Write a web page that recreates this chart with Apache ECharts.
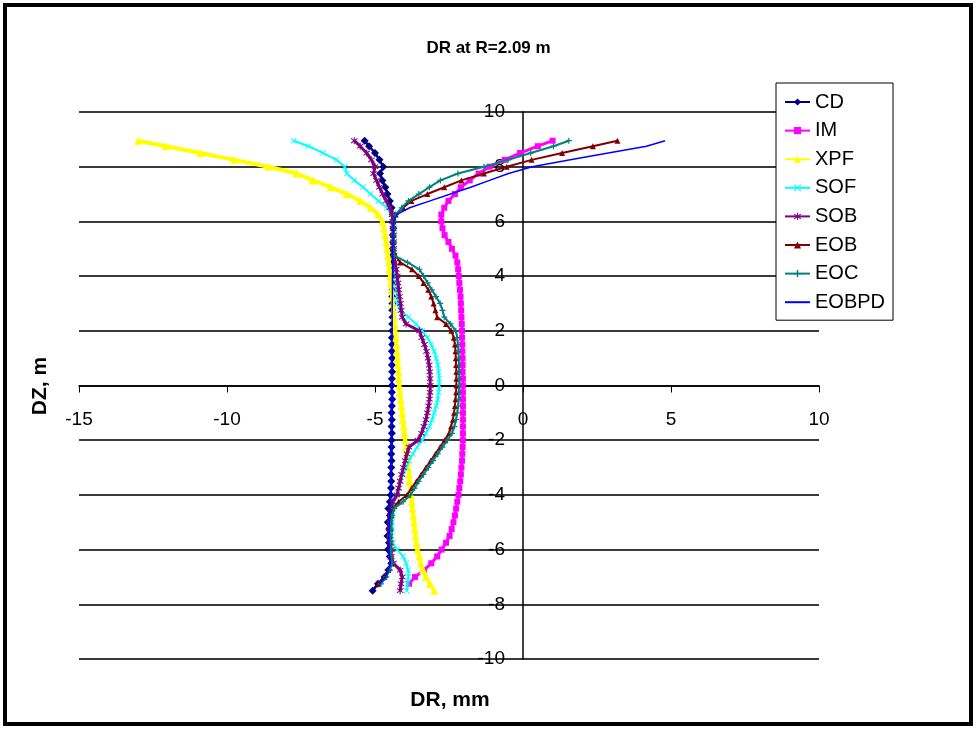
<!DOCTYPE html>
<html>
<head>
<meta charset="utf-8">
<script src="https://cdn.jsdelivr.net/npm/echarts@6/dist/echarts.min.js"></script>
<style>
html,body{margin:0;padding:0;background:#fff;}
#chart{width:977px;height:730px;}
</style>
</head>
<body>
<div id="chart"></div>
<script>
// DZ (m) levels shared by all series
const DZ = [8.95, 8.75, 8.5, 8.25, 8, 7.75, 7.5, 7.25, 7, 6.75, 6.5, 6.25, 6,
  5.75, 5.5, 5.25, 5, 4.75, 4.5, 4.25, 4, 3.75, 3.5, 3.25, 3, 2.75, 2.5, 2.25,
  2, 1.75, 1.5, 1.25, 1, 0.75, 0.5, 0.25, 0,
  -0.25, -0.5, -0.75, -1, -1.25, -1.5, -1.75, -2,
  -2.25, -2.5, -2.75, -3, -3.25, -3.5, -3.75, -4,
  -4.25, -4.5, -4.75, -5, -5.25, -5.5, -5.75, -6,
  -6.25, -6.5, -6.75, -7, -7.25, -7.5];

// DR (mm) values per series
const CD = [-5.35, -5.2, -5.0, -4.85, -4.72, -4.83, -4.75, -4.65, -4.58, -4.5, -4.44, -4.4, -4.39,
  -4.38, -4.4, -4.39, -4.4, -4.41, -4.4, -4.39, -4.41, -4.4, -4.41, -4.42, -4.41, -4.42, -4.41, -4.42,
  -4.42, -4.43, -4.42, -4.43, -4.42, -4.43, -4.42, -4.43, -4.43,
  -4.43, -4.42, -4.43, -4.44, -4.43, -4.44, -4.43, -4.44,
  -4.44, -4.45, -4.44, -4.45, -4.46, -4.45, -4.46, -4.47,
  -4.5, -4.55, -4.5, -4.57, -4.52, -4.58, -4.53, -4.56,
  -4.5, -4.45, -4.55, -4.68, -4.9, -5.08];
const IM = [1.0, 0.5, -0.1, -0.62, -1.13, -1.5, -1.8, -2.1, -2.3, -2.52, -2.66, -2.76, -2.76,
  -2.72, -2.65, -2.52, -2.4, -2.28, -2.22, -2.19, -2.17, -2.15, -2.13, -2.11, -2.1, -2.09, -2.08, -2.07,
  -2.06, -2.06, -2.05, -2.05, -2.04, -2.04, -2.04, -2.03, -2.03,
  -2.03, -2.03, -2.03, -2.03, -2.03, -2.03, -2.03, -2.03,
  -2.04, -2.05, -2.06, -2.08, -2.1, -2.12, -2.15, -2.18,
  -2.22, -2.26, -2.3, -2.35, -2.41, -2.48, -2.6, -2.75,
  -2.9, -3.1, -3.35, -3.65, -3.85, null];
const XPF = [-13.0, -12.07, -10.9, -9.75, -8.6, -7.65, -7.1, -6.5, -5.95, -5.5, -5.15, -4.9, -4.75,
  -4.7, -4.66, -4.62, -4.59, -4.56, -4.53, -4.51, -4.49, -4.46, -4.44, -4.42, -4.4, -4.38, -4.36, -4.34,
  -4.32, -4.3, -4.28, -4.26, -4.25, -4.23, -4.21, -4.2, -4.18,
  -4.16, -4.13, -4.11, -4.08, -4.06, -4.03, -4.01, -3.98,
  -3.95, -3.93, -3.9, -3.88, -3.85, -3.83, -3.8, -3.78,
  -3.76, -3.73, -3.71, -3.68, -3.66, -3.63, -3.6, -3.57,
  -3.5, -3.45, -3.38, -3.27, -3.15, -3.0];
const SOF = [-7.75, -7.25, -6.75, -6.3, -6.02, -5.95, -5.7, -5.4, -5.15, -4.88, -4.6, -4.45, -4.38,
  -4.36, -4.35, -4.35, -4.34, -4.34, -4.33, -4.32, -4.3, -4.29, -4.28, -4.26, -4.24, -4.15, -3.87, -3.62,
  -3.4, -3.23, -3.1, -3.0, -2.93, -2.88, -2.85, -2.83, -2.83,
  -2.85, -2.88, -2.93, -3.0, -3.07, -3.17, -3.28, -3.4,
  -3.58, -3.72, -3.85, -3.95, -4.05, -4.15, -4.22, -4.28,
  -4.35, -4.38, -4.4, -4.42, -4.42, -4.43, -4.4, -4.25,
  -4.05, -3.95, -3.88, -3.87, -3.9, -3.93];
const SOB = [-5.7, -5.5, -5.28, -5.12, -5.0, -5.05, -4.95, -4.85, -4.74, -4.62, -4.5, -4.42, -4.4,
  -4.39, -4.38, -4.38, -4.37, -4.36, -4.33, -4.28, -4.25, -4.22, -4.2, -4.17, -4.14, -4.11, -4.08, -3.95,
  -3.5, -3.42, -3.33, -3.26, -3.21, -3.17, -3.15, -3.14, -3.13,
  -3.14, -3.16, -3.19, -3.23, -3.28, -3.35, -3.43, -3.55,
  -3.85, -3.92, -3.98, -4.04, -4.1, -4.15, -4.2, -4.26,
  -4.4, -4.45, -4.48, -4.5, -4.52, -4.5, -4.48, -4.45,
  -4.45, -4.38, -4.15, -4.08, -4.12, -4.15];
const EOB = [3.19, 2.36, 1.32, 0.29, -0.55, -1.32, -2.08, -2.66, -3.23, -3.77, -4.05, -4.3, -4.38,
  -4.38, -4.39, -4.39, -4.4, -4.3, -4.15, -3.75, -3.52, -3.36, -3.2, -3.1, -3.02, -2.96, -2.9, -2.6,
  -2.42, -2.34, -2.3, -2.28, -2.27, -2.26, -2.25, -2.25, -2.25,
  -2.26, -2.28, -2.3, -2.33, -2.37, -2.43, -2.5, -2.65,
  -2.8, -2.96, -3.12, -3.28, -3.44, -3.6, -3.76, -3.92,
  -4.2, -4.42, -4.45, -4.5, -4.48, -4.52, -4.5, -4.5,
  -4.48, -4.45, -4.55, -4.68, -4.88, null];
const EOC = [1.55, 1.03, 0.26, -0.5, -1.32, -2.2, -2.79, -3.16, -3.52, -3.87, -4.1, -4.3, -4.37,
  -4.37, -4.38, -4.38, -4.39, -4.35, -3.9, -3.5, -3.36, -3.22, -3.08, -2.94, -2.8, -2.72, -2.66, -2.45,
  -2.27, -2.22, -2.2, -2.18, -2.17, -2.16, -2.16, -2.15, -2.15,
  -2.16, -2.17, -2.19, -2.22, -2.26, -2.32, -2.4, -2.55,
  -2.72, -2.88, -3.04, -3.2, -3.36, -3.52, -3.66, -3.8,
  -4.05, -4.35, -4.42, -4.47, -4.45, -4.5, -4.48, -4.47,
  -4.45, -4.42, -4.5, -4.62, -4.8, null];
const EOBPD = [4.8, 4.17, 2.88, 1.6, 0.31, -0.49, -1.13, -1.77, -2.45, -3.14, -3.83, -4.27, -4.37,
  -4.38, -4.39, -4.39, -4.4, -4.4, -4.4, -4.4, -4.41, -4.41, -4.41, -4.41, -4.42, -4.42, -4.42, -4.42,
  -4.42, -4.42, -4.43, -4.43, -4.43, -4.43, -4.43, -4.43, -4.43,
  -4.43, -4.43, -4.43, -4.44, -4.44, -4.44, -4.44, -4.44,
  -4.44, -4.45, -4.45, -4.45, -4.46, -4.46, -4.46, -4.47,
  -4.48, -4.5, -4.5, -4.52, -4.52, -4.53, -4.53, -4.53,
  -4.5, -4.48, -4.55, -4.65, -4.85, null];

const SERIES_NAMES = ['CD', 'IM', 'XPF', 'SOF', 'SOB', 'EOB', 'EOC', 'EOBPD'];
const SERIES_VALUES = [CD, IM, XPF, SOF, SOB, EOB, EOC, EOBPD];

const X_MIN = -15, X_MAX = 10, X_STEP = 5;
const Y_MIN = -10, Y_MAX = 10, Y_STEP = 2;

const TITLE = 'DR at R=2.09 m';
const X_NAME = 'DR, mm';
const Y_NAME = 'DZ, m';

const FONT = "'Liberation Sans', Arial, sans-serif";

const X_SHAPE = 'path://M0,1L1,0L5,4L9,0L10,1L6,5L10,9L9,10L5,6L1,10L0,9L4,5Z';
const PLUS_SHAPE = 'path://M4,0H6V4H10V6H6V10H4V6H0V4H4Z';
const STAR_SHAPE = 'path://M4.3,0H5.7V3.6L8.8,1.2L9.6,2.3L6.4,5L9.6,7.7L8.8,8.8L5.7,6.4V10H4.3V6.4L1.2,8.8L0.4,7.7L3.6,5L0.4,2.3L1.2,1.2L4.3,3.6Z';

const STYLES = [
  { color: '#000080', width: 2.5, symbol: 'diamond', size: 8 },
  { color: '#FF00FF', width: 3, symbol: 'rect', size: 6 },
  { color: '#FFFF00', width: 4, symbol: 'triangle', size: 8 },
  { color: '#00FFFF', width: 2, symbol: X_SHAPE, size: 6 },
  { color: '#800080', width: 3, symbol: STAR_SHAPE, size: 7 },
  { color: '#800000', width: 2, symbol: 'triangle', size: 6 },
  { color: '#008080', width: 2, symbol: PLUS_SHAPE, size: 6 },
  { color: '#0000FF', width: 1.5, symbol: 'circle', size: 1 }
];

// plot geometry
const GRID_LEFT = 79, GRID_RIGHT = 158, GRID_TOP = 112, GRID_BOTTOM = 71;
const W = 977, H = 730;
const plotW = W - GRID_LEFT - GRID_RIGHT;
const plotH = H - GRID_TOP - GRID_BOTTOM;
const xZeroOffset = plotW * (0 - X_MIN) / (X_MAX - X_MIN);
const yZeroOffset = plotH * (0 - Y_MIN) / (Y_MAX - Y_MIN);

const series = SERIES_NAMES.map((name, k) => {
  const vals = SERIES_VALUES[k];
  const st = STYLES[k];
  const data = [];
  DZ.forEach((z, i) => { if (vals[i] !== null && vals[i] !== undefined) data.push([vals[i], z]); });
  return {
    name: name,
    type: 'line',
    data: data,
    symbol: st.symbol,
    symbolSize: st.size,
    showSymbol: k !== 7,
    lineStyle: { color: st.color, width: st.width },
    itemStyle: { color: st.color, borderWidth: 0 },
    emphasis: { disabled: true },
    animation: false,
    z: 2 + k
  };
});

const legendData = SERIES_NAMES.map((name, k) =>
  k === 7 ? { name: name, itemStyle: { opacity: 0 } } : { name: name });

const chart = echarts.init(document.getElementById('chart'), null, { renderer: 'canvas' });
chart.setOption({
  backgroundColor: '#ffffff',
  animation: false,
  title: {
    text: TITLE,
    left: 'center',
    top: 35,
    textStyle: { fontFamily: FONT, fontSize: 17, fontWeight: 'bold', color: '#000' }
  },
  legend: {
    data: legendData,
    orient: 'vertical',
    left: 776,
    top: 83,
    itemWidth: 25,
    itemHeight: 9,
    itemGap: 8.6,
    padding: [9, 8, 8, 8],
    borderColor: '#000',
    borderWidth: 1,
    backgroundColor: '#fff',
    textStyle: { fontFamily: FONT, fontSize: 20, color: '#000', lineHeight: 20 },
    selectedMode: false
  },
  grid: { left: GRID_LEFT, right: GRID_RIGHT, top: GRID_TOP, bottom: GRID_BOTTOM, containLabel: false },
  xAxis: {
    type: 'value',
    position: 'bottom',
    offset: -yZeroOffset,
    min: X_MIN, max: X_MAX, interval: X_STEP,
    axisLine: { onZero: false, lineStyle: { color: '#000', width: 1.5 } },
    axisTick: { show: true, inside: false, length: 7, lineStyle: { color: '#000', width: 1 } },
    axisLabel: { margin: 25, fontFamily: FONT, fontSize: 19, color: '#000' },
    splitLine: { show: false }
  },
  yAxis: {
    type: 'value',
    position: 'left',
    offset: -xZeroOffset,
    min: Y_MIN, max: Y_MAX, interval: Y_STEP,
    axisLine: { onZero: false, lineStyle: { color: '#000', width: 1.5 } },
    axisTick: { show: false },
    axisLabel: { margin: 18, fontFamily: FONT, fontSize: 19, color: '#000' },
    splitLine: { show: true, lineStyle: { color: '#3a3a3a', width: 2 } }
  },
  graphic: [
    {
      type: 'rect', z: 100, silent: true,
      shape: { x: 5, y: 5, width: 966, height: 719 },
      style: { fill: 'none', stroke: '#000', lineWidth: 4 }
    },
    {
      type: 'text', z: 50, silent: true,
      x: 450, y: 700,
      style: { text: X_NAME, fontFamily: FONT, fontSize: 21, fontWeight: 'bold', fill: '#000', align: 'center', verticalAlign: 'middle' }
    },
    {
      type: 'text', z: 50, silent: true,
      x: 40, y: 386, rotation: Math.PI / 2,
      style: { text: Y_NAME, fontFamily: FONT, fontSize: 21, fontWeight: 'bold', fill: '#000', align: 'center', verticalAlign: 'middle' }
    }
  ],
  series: series
});
</script>
</body>
</html>
